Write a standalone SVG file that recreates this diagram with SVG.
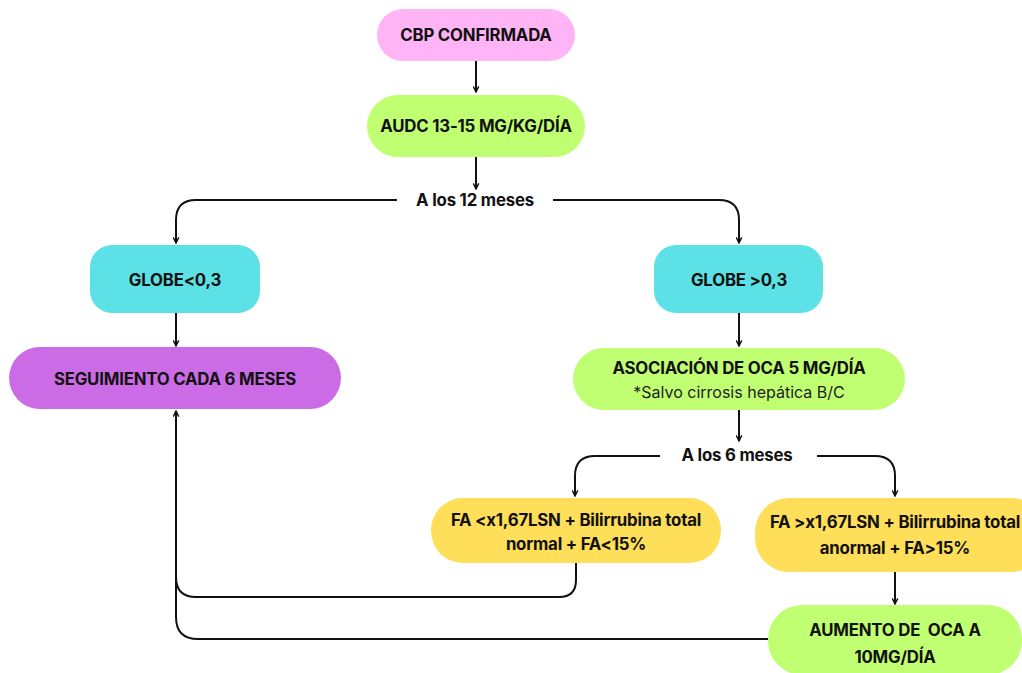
<svg xmlns="http://www.w3.org/2000/svg" width="1022" height="673" viewBox="0 0 1022 673">
<style>
.t{font-family:Inter,"Liberation Sans",sans-serif;font-weight:700;font-size:16.8px;fill:#111;text-anchor:middle;letter-spacing:-0.2px}
.s{font-family:Inter,"Liberation Sans",sans-serif;font-weight:400;font-size:16px;fill:#222;text-anchor:middle}
.c{fill:none;stroke:#111;stroke-width:2}
</style>
<defs>
<marker id="ah" viewBox="0 0 10 10" refX="9" refY="5" markerWidth="7" markerHeight="7" orient="auto" markerUnits="userSpaceOnUse">
<path d="M1,1 L9,5 L1,9" fill="none" stroke="#111" stroke-width="2"/>
</marker>
</defs>
<rect width="1022" height="673" fill="#fff"/>
<g id="connectors">
<path class="c" d="M476,61 V92" marker-end="url(#ah)"/>
<path class="c" d="M476,157 V189" marker-end="url(#ah)"/>
<path class="c" d="M397,200 H196 Q176,200 176,220 V243" marker-end="url(#ah)"/>
<path class="c" d="M553,200 H719 Q739,200 739,220 V243" marker-end="url(#ah)"/>
<path class="c" d="M176,313 V346" marker-end="url(#ah)"/>
<path class="c" d="M739,313 V346" marker-end="url(#ah)"/>
<path class="c" d="M739,410 V441" marker-end="url(#ah)"/>
<path class="c" d="M660,456 H595 Q575,456 575,476 V496" marker-end="url(#ah)"/>
<path class="c" d="M817,456 H875 Q895,456 895,476 V496" marker-end="url(#ah)"/>
<path class="c" d="M895,572 V604" marker-end="url(#ah)"/>
<path class="c" d="M576,563 V580 Q576,597 559,597 H196 Q176,597 176,577 V411" marker-end="url(#ah)"/>
<path class="c" d="M768,639 H198 Q176,639 176,617 V560"/>
</g>
<g id="n1"><rect x="377" y="9" width="198" height="52" rx="26" fill="#FFB5F5"/><text class="t" x="476" y="41">CBP CONFIRMADA</text></g>
<g id="n2"><rect x="367" y="95" width="218" height="62" rx="31" fill="#C1FF72"/><text class="t" x="476" y="132">AUDC 13-15 MG/KG/DÍA</text></g>
<g id="l1"><text class="t" x="475" y="206">A los 12 meses</text></g>
<g id="n3"><rect x="90" y="245" width="170" height="68" rx="22" fill="#5CE1E6"/><text class="t" x="175" y="286">GLOBE&lt;0,3</text></g>
<g id="n4"><rect x="654" y="245" width="169" height="68" rx="22" fill="#5CE1E6"/><text class="t" x="739" y="286">GLOBE &gt;0,3</text></g>
<g id="n5"><rect x="9" y="347" width="332" height="62" rx="31" fill="#CB6CE6"/><text class="t" x="175" y="385">SEGUIMIENTO CADA 6 MESES</text></g>
<g id="n6"><rect x="573" y="348" width="332" height="62" rx="31" fill="#C1FF72"/><text class="t" x="739" y="374">ASOCIACIÓN DE OCA 5 MG/DÍA</text><text class="s" x="739" y="398">*Salvo cirrosis hepática B/C</text></g>
<g id="l2"><text class="t" x="737" y="461">A los 6 meses</text></g>
<g id="n7"><rect x="431" y="498" width="290" height="65" rx="32" fill="#FFDE59"/><text class="t" x="576" y="526">FA &lt;x1,67LSN + Bilirrubina total</text><text class="t" x="576" y="550">normal + FA&lt;15%</text></g>
<g id="n8"><rect x="755" y="498" width="290" height="74" rx="34" fill="#FFDE59"/><text class="t" x="895" y="528">FA &gt;x1,67LSN + Bilirrubina total</text><text class="t" x="895" y="554">anormal + FA&gt;15%</text></g>
<g id="n9"><rect x="768" y="605" width="254" height="70" rx="34" fill="#C1FF72"/><text class="t" x="895" y="636" xml:space="preserve">AUMENTO DE  OCA A</text><text class="t" x="895" y="663">10MG/DÍA</text></g>
</svg>
